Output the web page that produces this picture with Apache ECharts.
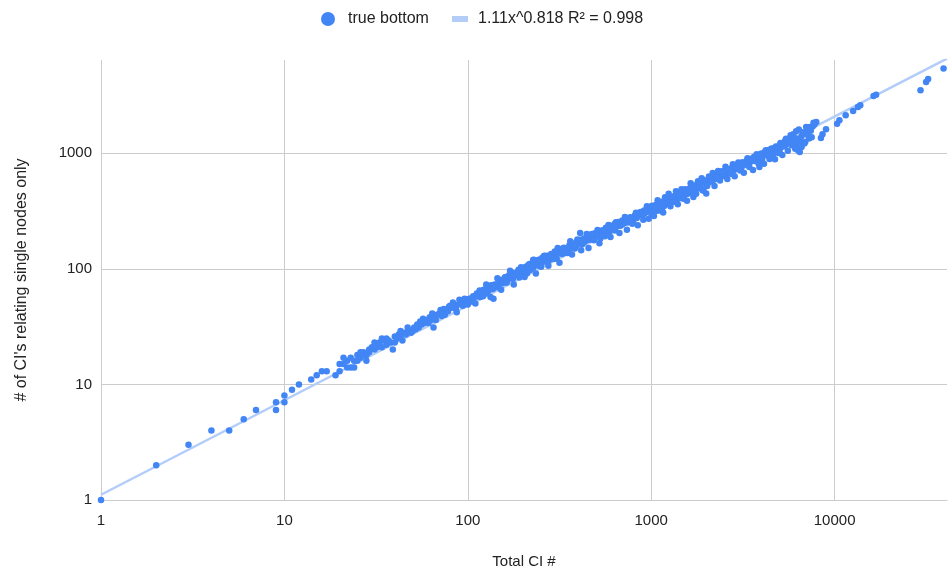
<!DOCTYPE html>
<html>
<head>
<meta charset="utf-8">
<script src="https://cdn.jsdelivr.net/npm/echarts@6/dist/echarts.min.js"></script>
<style>
  html, body { margin: 0; padding: 0; background: #ffffff; }
  #chart { width: 948px; height: 572px; }
</style>
</head>
<body>
<div id="chart"></div>
<script>
// [total CI count, CIs relating single nodes only]
const smallCounts = [[1,1],[2,2],[3,3],[4,4],[5,4],[6,5],[7,6],[9,6],[9,7],[10,7],[10,8],[11,9],[12,10],[14,11],[15,12],[16,13],[17,13],[19,12]];

const counts20to100 = [[20,15],[20,13],[21,15],[21,17],[22,16],[22,14],[23,14],[23,17],[24,16],[24,14],[25,16],[25,18],[26,17],[26,19],[27,18],[27,19],[28,18],[28,16],[29,20],[29,19],[30,21],[31,20],[31,23],[32,21],[33,23],[33,22],[34,21],[34,25],[35,24],[36,25],[36,22],[37,24],[38,23],[39,20],[40,26],[40,23],[41,25],[42,27],[43,26],[43,29],[44,24],[45,28],[46,27],[47,31],[48,29],[49,28],[50,29],[51,31],[52,30],[53,33],[54,31],[55,35],[56,33],[57,37],[58,34],[60,36],[61,34],[62,38],[63,36],[64,41],[65,31],[66,38],[67,36],[68,40],[70,41],[71,44],[72,39],[74,45],[75,40],[76,44],[78,43],[79,47],[80,48],[82,46],[83,51],[84,47],[86,45],[87,42],[89,49],[90,54],[91,50],[93,51],[94,48],[95,52],[96,55],[97,50],[99,52]];

const counts100to1000 = [[100,52],[100,49],[102,55],[104,53],[107,58],[107,52],[109,57],[112,61],[114,58],[117,64],[117,57],[120,62],[122,66],[125,61],[128,68],[128,62],[131,66],[134,72],[137,67],[138,55],[140,73],[143,70],[147,77],[147,69],[150,80],[154,75],[157,81],[161,85],[161,76],[165,80],[168,88],[172,83],[176,92],[176,82],[180,87],[185,93],[189,98],[193,89],[198,101],[198,92],[202,96],[207,104],[210,91],[212,99],[217,110],[217,97],[222,106],[227,119],[227,102],[232,114],[237,108],[243,120],[243,106],[248,113],[254,124],[260,115],[260,129],[266,121],[272,130],[278,119],[285,134],[285,123],[291,128],[298,141],[305,131],[305,122],[312,138],[319,147],[327,134],[334,152],[334,140],[342,146],[350,137],[358,160],[358,148],[366,153],[375,165],[383,150],[392,171],[392,160],[401,166],[410,204],[411,178],[420,163],[430,183],[430,170],[440,175],[450,192],[461,178],[471,198],[471,184],[482,186],[493,203],[505,192],[516,211],[516,197],[528,183],[540,214],[553,204],[566,226],[566,212],[579,219],[592,208],[606,236],[606,220],[620,228],[634,245],[634,214],[649,232],[664,254],[679,236],[695,262],[695,243],[711,248],[728,270],[745,252],[762,277],[762,259],[780,270],[798,255],[816,290],[835,275],[835,299],[854,290],[874,310],[894,292],[915,320],[915,300],[936,308],[958,335],[980,314]];

const counts100to1000Outer = [[103,55],[110,50],[116,65],[121,58],[126,73],[133,57],[139,72],[145,83],[152,66],[159,84],[163,76],[170,96],[178,73],[183,91],[191,84],[195,103],[204,85],[214,108],[220,99],[229,120],[235,91],[246,114],[251,104],[263,130],[275,106],[282,130],[295,122],[309,151],[316,113],[330,150],[346,138],[362,173],[370,133],[388,163],[396,179],[415,145],[425,171],[445,200],[455,151],[476,200],[487,177],[510,217],[522,166],[546,214],[559,191],[585,239],[600,188],[627,231],[642,253],[671,204],[687,240],[719,280],[737,218],[771,279],[789,245],[826,306],[845,238],[884,303],[905,266],[947,347],[969,271],[990,326]];

const counts1000to9000 = [[1000,345],[1000,300],[1023,330],[1047,352],[1072,318],[1072,360],[1096,345],[1122,372],[1148,338],[1175,385],[1175,350],[1202,372],[1230,398],[1259,362],[1288,410],[1288,380],[1318,395],[1349,430],[1380,398],[1413,445],[1413,420],[1445,410],[1479,462],[1514,430],[1549,475],[1549,448],[1585,445],[1622,497],[1660,470],[1698,418],[1698,510],[1738,488],[1778,530],[1820,498],[1862,552],[1862,515],[1905,478],[1950,560],[1995,448],[1995,580],[2042,552],[2089,600],[2138,570],[2188,625],[2188,590],[2239,598],[2291,648],[2344,610],[2399,675],[2399,632],[2455,640],[2512,698],[2570,660],[2630,722],[2630,690],[2692,680],[2754,745],[2818,708],[2884,772],[2884,735],[2951,740],[3020,795],[3090,750],[3162,830],[3162,780],[3236,800],[3311,860],[3388,812],[3467,885],[3467,840],[3548,860],[3631,925],[3715,880],[3802,960],[3802,905],[3890,760],[3890,940],[3981,995],[4074,950],[4169,1030],[4169,970],[4266,1000],[4365,1065],[4467,1020],[4571,1100],[4650,993],[4677,1060],[4786,1140],[4898,1090],[5012,1175],[5012,1050],[5129,1130],[5248,1210],[5370,1170],[5370,1280],[5495,1230],[5623,1310],[5754,1430],[5754,1200],[5888,1280],[6026,1350],[6166,1545],[6166,1170],[6310,1060],[6310,1300],[6457,1025],[6607,1130],[6607,1400],[6761,1480],[6918,1250],[7079,1475],[7079,1620],[7244,1337],[7413,1560],[7586,1700],[7762,1770],[7943,1860],[8420,1353],[8590,1457],[8980,1612]];

const counts1000to8000Outer = [[1012,351],[1035,286],[1060,338],[1084,392],[1110,320],[1135,379],[1162,307],[1189,415],[1216,367],[1245,446],[1273,347],[1303,416],[1333,380],[1365,468],[1396,361],[1429,440],[1462,487],[1496,404],[1531,487],[1567,388],[1603,469],[1641,549],[1679,453],[1718,525],[1758,445],[1799,571],[1841,503],[1884,608],[1928,475],[1972,578],[2018,521],[2065,628],[2113,575],[2163,675],[2213,519],[2265,627],[2317,702],[2371,581],[2427,697],[2483,636],[2541,764],[2600,599],[2661,729],[2723,665],[2786,801],[2851,631],[2917,756],[2985,832],[3055,707],[3126,832],[3199,676],[3273,805],[3349,905],[3427,759],[3507,896],[3589,716],[3672,857],[3758,977],[3845,814],[3935,965],[4027,885],[4121,812],[4217,1062],[4315,957],[4415,890],[4518,1091],[4624,980],[4731,886],[4842,1109],[4954,1002],[5070,1223],[5188,967],[5309,1146],[5432,1331],[5559,1050],[5689,1265],[5821,1170],[5957,1462],[6096,1090],[6237,1336],[6383,1604],[6532,1256],[6684,1518],[6839,1213],[6998,1684],[7161,1432],[7328,1684],[7499,1373],[7674,1832]];

const largeCounts = [[10320,1800],[10620,1925],[11490,2128],[12620,2315],[13400,2510],[13800,2595],[16300,3130],[16830,3210],[29400,3500],[31550,4130],[32350,4380],[39260,5400]];

// power-law fit y = a * x^b
const trendA = 1.11;
const trendB = 0.818;
const trendR2 = 0.998;

const xMin = 1, xMax = 41000;
const yMin = 1, yMax = 6400;

const scatterName = 'true bottom';
const trendName = trendA + 'x^' + trendB + ' R\u00b2 = ' + trendR2;

const allPoints = [].concat(smallCounts, counts20to100, counts100to1000, counts100to1000Outer,
  counts1000to9000, counts1000to8000Outer, largeCounts);
const trendPoints = [xMin, xMax].map(x => [x, trendA * Math.pow(x, trendB)]);

const FONT = 'Arial, "Liberation Sans", sans-serif';
const GRID = '#cccccc';
const DOT = '#4285f4';
const TREND = '#b3cdf9';
const INK = '#222222';

const chart = echarts.init(document.getElementById('chart'), null, { renderer: 'canvas' });

chart.setOption({
  animation: false,
  backgroundColor: '#ffffff',
  textStyle: { fontFamily: FONT },
  legend: [
    {
      data: [{ name: scatterName, icon: 'circle' }],
      left: 316, top: 6,
      itemWidth: 14, itemHeight: 14,
      textStyle: { color: INK, fontSize: 16, fontFamily: FONT, padding: [0, 0, 0, 8] }
    },
    {
      data: [{ name: trendName, icon: 'rect' }],
      left: 447, top: 6,
      itemWidth: 16, itemHeight: 6,
      textStyle: { color: INK, fontSize: 16, fontFamily: FONT, padding: [0, 0, 0, 5] }
    }
  ],
  grid: { left: 101, right: 1, top: 60, bottom: 72, containLabel: false, outerBoundsMode: 'none' },
  xAxis: {
    type: 'log', logBase: 10, min: xMin, max: xMax,
    name: 'Total CI #', nameLocation: 'middle', nameGap: 54,
    nameTextStyle: { color: INK, fontSize: 15, fontFamily: FONT },
    axisLine: { show: true, lineStyle: { color: GRID, width: 1 } },
    axisTick: { show: false },
    axisLabel: { color: INK, fontSize: 15, fontFamily: FONT, margin: 13, showMaxLabel: false,
      formatter: v => String(Math.round(v)) },
    splitLine: { show: true, showMaxLine: false, lineStyle: { color: GRID, width: 1 } }
  },
  yAxis: {
    type: 'log', logBase: 10, min: yMin, max: yMax,
    name: "# of CI's relating single nodes only", nameLocation: 'middle', nameGap: 71,
    nameTextStyle: { color: INK, fontSize: 16, fontFamily: FONT },
    axisLine: { show: false },
    axisTick: { show: false },
    axisLabel: { color: INK, fontSize: 15, fontFamily: FONT, margin: 9, showMaxLabel: false,
      formatter: v => String(Math.round(v)) },
    splitLine: { show: true, showMaxLine: false, lineStyle: { color: GRID, width: 1 } }
  },
  series: [
    {
      name: trendName,
      type: 'line',
      data: trendPoints,
      showSymbol: false,
      symbol: 'none',
      itemStyle: { color: TREND },
      lineStyle: { color: TREND, width: 2.5 },
      z: 1,
      silent: true
    },
    {
      name: scatterName,
      type: 'scatter',
      data: allPoints,
      symbol: 'circle',
      symbolSize: 6.5,
      itemStyle: { color: DOT, opacity: 1 },
      z: 3
    }
  ]
});
</script>
</body>
</html>
